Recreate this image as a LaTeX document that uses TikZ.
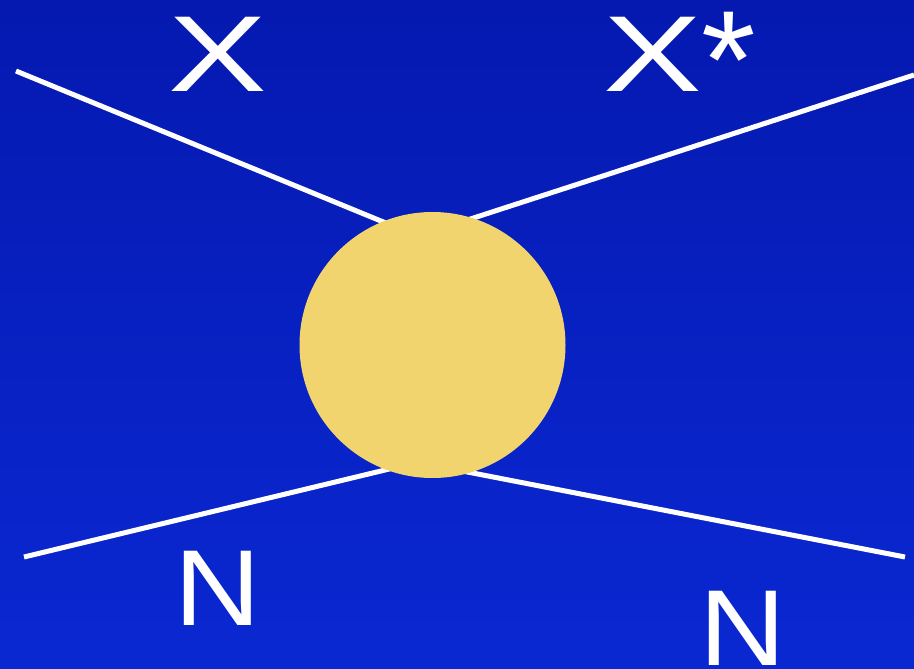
\documentclass[tikz,border=0pt]{standalone}
\usepackage{fontspec}
\setmainfont{Liberation Sans}
\definecolor{bgtop}{HTML}{0519B0}
\definecolor{bgbot}{HTML}{0A28D2}
\definecolor{ball}{HTML}{F2D46E}
\begin{document}
\begin{tikzpicture}[x=1pt,y=-1pt,
  leg/.style={draw=white,line width=5pt},
  lbl/.style={text=white,font=\fontsize{108}{108}\selectfont,inner sep=0pt,anchor=base}]
\shade[top color=bgtop,bottom color=bgbot] (0,0) rectangle (914,669);
\useasboundingbox (0,0) rectangle (914,669);
\coordinate (tl) at (16,71);
\coordinate (tr) at (914,75);
\coordinate (bl) at (24,557);
\coordinate (br) at (905,557);
\coordinate (ctl) at (398,228);
\coordinate (ctr) at (455,224);
\coordinate (cbl) at (410,464);
\coordinate (cbr) at (452,469);
\draw[leg] (tl) -- (ctl);
\draw[leg] (tr) -- (ctr);
\draw[leg] (bl) -- (cbl);
\draw[leg] (br) -- (cbr);
\node[circle,fill=ball,minimum size=266pt,inner sep=0pt] (blob) at (432.5,345) {};
\node[lbl] (x) at (218,92) {\scalebox{1.37}[1]{X}};
\node[lbl,anchor=base west] (xs) at (603,92) {\scalebox{1.37}[1]{X}\raisebox{-17pt}{\fontsize{140}{140}\selectfont *}};
\node[lbl] (n1) at (218,625) {\scalebox{1.11}[1]{N}};
\node[lbl] (n2) at (743,665) {\scalebox{1.11}[1]{N}};
\end{tikzpicture}
\end{document}
